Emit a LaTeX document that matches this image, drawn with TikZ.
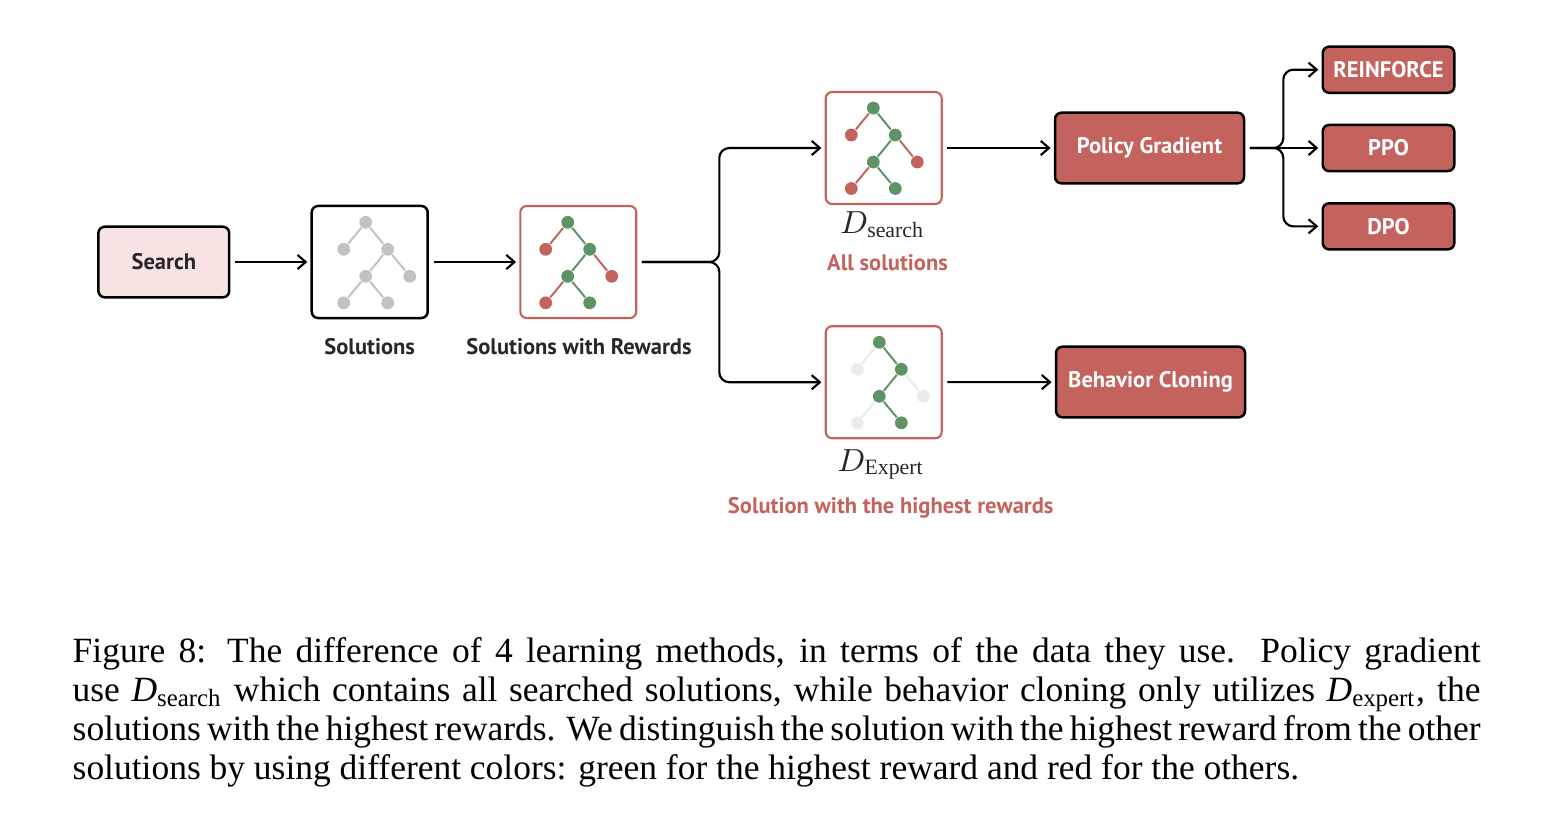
\documentclass[tikz,border=0pt]{standalone}
\usepackage{fontspec}
\setmainfont{Liberation Serif}
\setsansfont{PT Sans}
\usepackage{amsmath}
\usetikzlibrary{arrows.meta, positioning}
\definecolor{rwred}{RGB}{196,99,94}
\definecolor{rwgreen}{RGB}{95,146,101}
\definecolor{rwgray}{RGB}{192,194,198}
\definecolor{rwlight}{RGB}{234,235,236}
\definecolor{rwpink}{RGB}{248,227,227}
\definecolor{rwtext}{RGB}{38,38,44}
\newcommand{\lblfont}{\sffamily\bfseries\fontsize{6.35}{8}\selectfont}
% one small solution tree: name, root, colours of the seven dots
\newcommand{\soltree}[9]{%
  \begin{scope}[shift={(#2)}]
    \node[dot, fill=#3] (#1-1) at (0,0) {};
    \node[dot, fill=#4] (#1-2) at (-22,27) {};
    \node[dot, fill=#5] (#1-3) at (22,27) {};
    \node[dot, fill=#6] (#1-4) at (0,54) {};
    \node[dot, fill=#7] (#1-5) at (44,54) {};
    \node[dot, fill=#8] (#1-6) at (-22,80.5) {};
    \node[dot, fill=#9] (#1-7) at (22,80.5) {};
  \end{scope}
  \draw[edge, #4] (#1-1) -- (#1-2);
  \draw[edge, #5] (#1-1) -- (#1-3);
  \draw[edge, #6] (#1-3) -- (#1-4);
  \draw[edge, #7] (#1-3) -- (#1-5);
  \draw[edge, #8] (#1-4) -- (#1-6);
  \draw[edge, #9] (#1-4) -- (#1-7);
}

\begin{document}
\begin{tikzpicture}[x=0.282pt, y=-0.282pt,
    box/.style={draw=black, line width=0.7pt, rounded corners=1.8pt, font=\lblfont,
      inner xsep=1pt},
    method/.style={box, fill=rwred, text=white, minimum width=53.3pt, minimum height=19.9pt},
    algo/.style={box, fill=rwred, text=white, minimum width=37.1pt, minimum height=13pt},
    treebox/.style={draw=#1, line width=0.6pt, rounded corners=1.8pt, fill=white,
      minimum width=32.7pt, minimum height=31.6pt},
    dot/.style={circle, inner sep=0pt, minimum size=3.6pt, draw=none},
    edge/.style={line width=0.55pt},
    lbl/.style={font=\lblfont, text=rwtext},
    note/.style={font=\lblfont, text=rwred},
    dname/.style={anchor=base, text=rwtext, font=\fontsize{8.8}{10}\selectfont},
    arr/.style={line width=0.6pt, -{Straight Barb[length=2.3pt, width=4pt]},
      shorten <=1.3pt, shorten >=0.9pt}]
  \useasboundingbox (0,0) rectangle (1560,822);

  % pipeline
  \node[box, fill=rwpink, text=rwtext, minimum width=36.9pt, minimum height=19.9pt]
    (search) at (163.8,262) {Search};
  \node[treebox=black, line width=0.7pt] (sol) at (369.7,262) {};
  \node[treebox=rwred] (rew) at (578.3,262) {};
  \node[treebox=rwred] (dsearch) at (883.7,148) {};
  \node[treebox=rwred] (dexpert) at (883.7,382.2) {};

  \soltree{st}{365.7,222.3}{rwgray}{rwgray}{rwgray}{rwgray}{rwgray}{rwgray}{rwgray}
  \soltree{rt}{567.7,222.3}{rwgreen}{rwred}{rwgreen}{rwgreen}{rwred}{rwred}{rwgreen}
  \soltree{dt}{873.3,108}{rwgreen}{rwred}{rwgreen}{rwgreen}{rwred}{rwred}{rwgreen}
  \soltree{et}{879.3,342.3}{rwgreen}{rwlight}{rwgreen}{rwgreen}{rwlight}{rwlight}{rwgreen}

  \node[lbl] (sollbl) at (369.7,346.7) {Solutions};
  \node[lbl] (rewlbl) at (579,346.7) {Solutions with Rewards};
  \node[dname] (dsearchlbl) at (882.5,233) {$D_{\mathrm{search}}$};
  \node[note] (allsol) at (887.5,262.7) {All solutions};
  \node[dname] (dexpertlbl) at (881,471) {$D_{\mathrm{Expert}}$};
  \node[note] (bestsol) at (890.7,508) {Solution with the highest rewards};

  % learning methods
  \node[method] (pg) at (1149.5,148) {Policy Gradient};
  \node[method] (bc) at (1150.5,382) {Behavior Cloning};
  \node[algo] (reinforce) at (1388.5,69.7) {REINFORCE};
  \node[algo] (ppo) at (1388.5,148) {PPO};
  \node[algo] (dpo) at (1388.5,226.3) {DPO};

  \coordinate (split) at (719.3,262);
  \coordinate (pgsplit) at (1283.3,148);

  \draw[arr] (search) -- (sol);
  \draw[arr] (sol) -- (rew);
  \draw[arr, rounded corners=2.8pt] (rew.east) -- (split) |- (dsearch.west);
  \draw[arr, rounded corners=2.8pt] (rew.east) -- (split) |- (dexpert.west);
  \draw[arr] (dsearch) -- (pg);
  \draw[arr] (dexpert) -- (bc);
  \draw[arr, rounded corners=2.8pt] (pg.east) -- (pgsplit) |- (reinforce.west);
  \draw[arr] (pg.east) -- (ppo.west);
  \draw[arr, rounded corners=2.8pt] (pg.east) -- (pgsplit) |- (dpo.west);

  % caption
  \node[anchor=base west, text width=397pt, align=justify, inner sep=0pt,
    font=\fontsize{10}{11}\selectfont] (caption) at (72,662)
    {\noindent Figure 8: The difference of 4 learning methods, in terms of the data they use.  Policy gradient\linebreak
     use $\textit{D}_{\text{search}}$ which contains all searched solutions, while behavior cloning only utilizes $\textit{D}_{\text{expert}}$, the\linebreak
     solutions with the highest rewards. We distinguish the solution with the highest reward from the other\linebreak
     solutions by using different colors: green for the highest reward and red for the others.};
\end{tikzpicture}
\end{document}
